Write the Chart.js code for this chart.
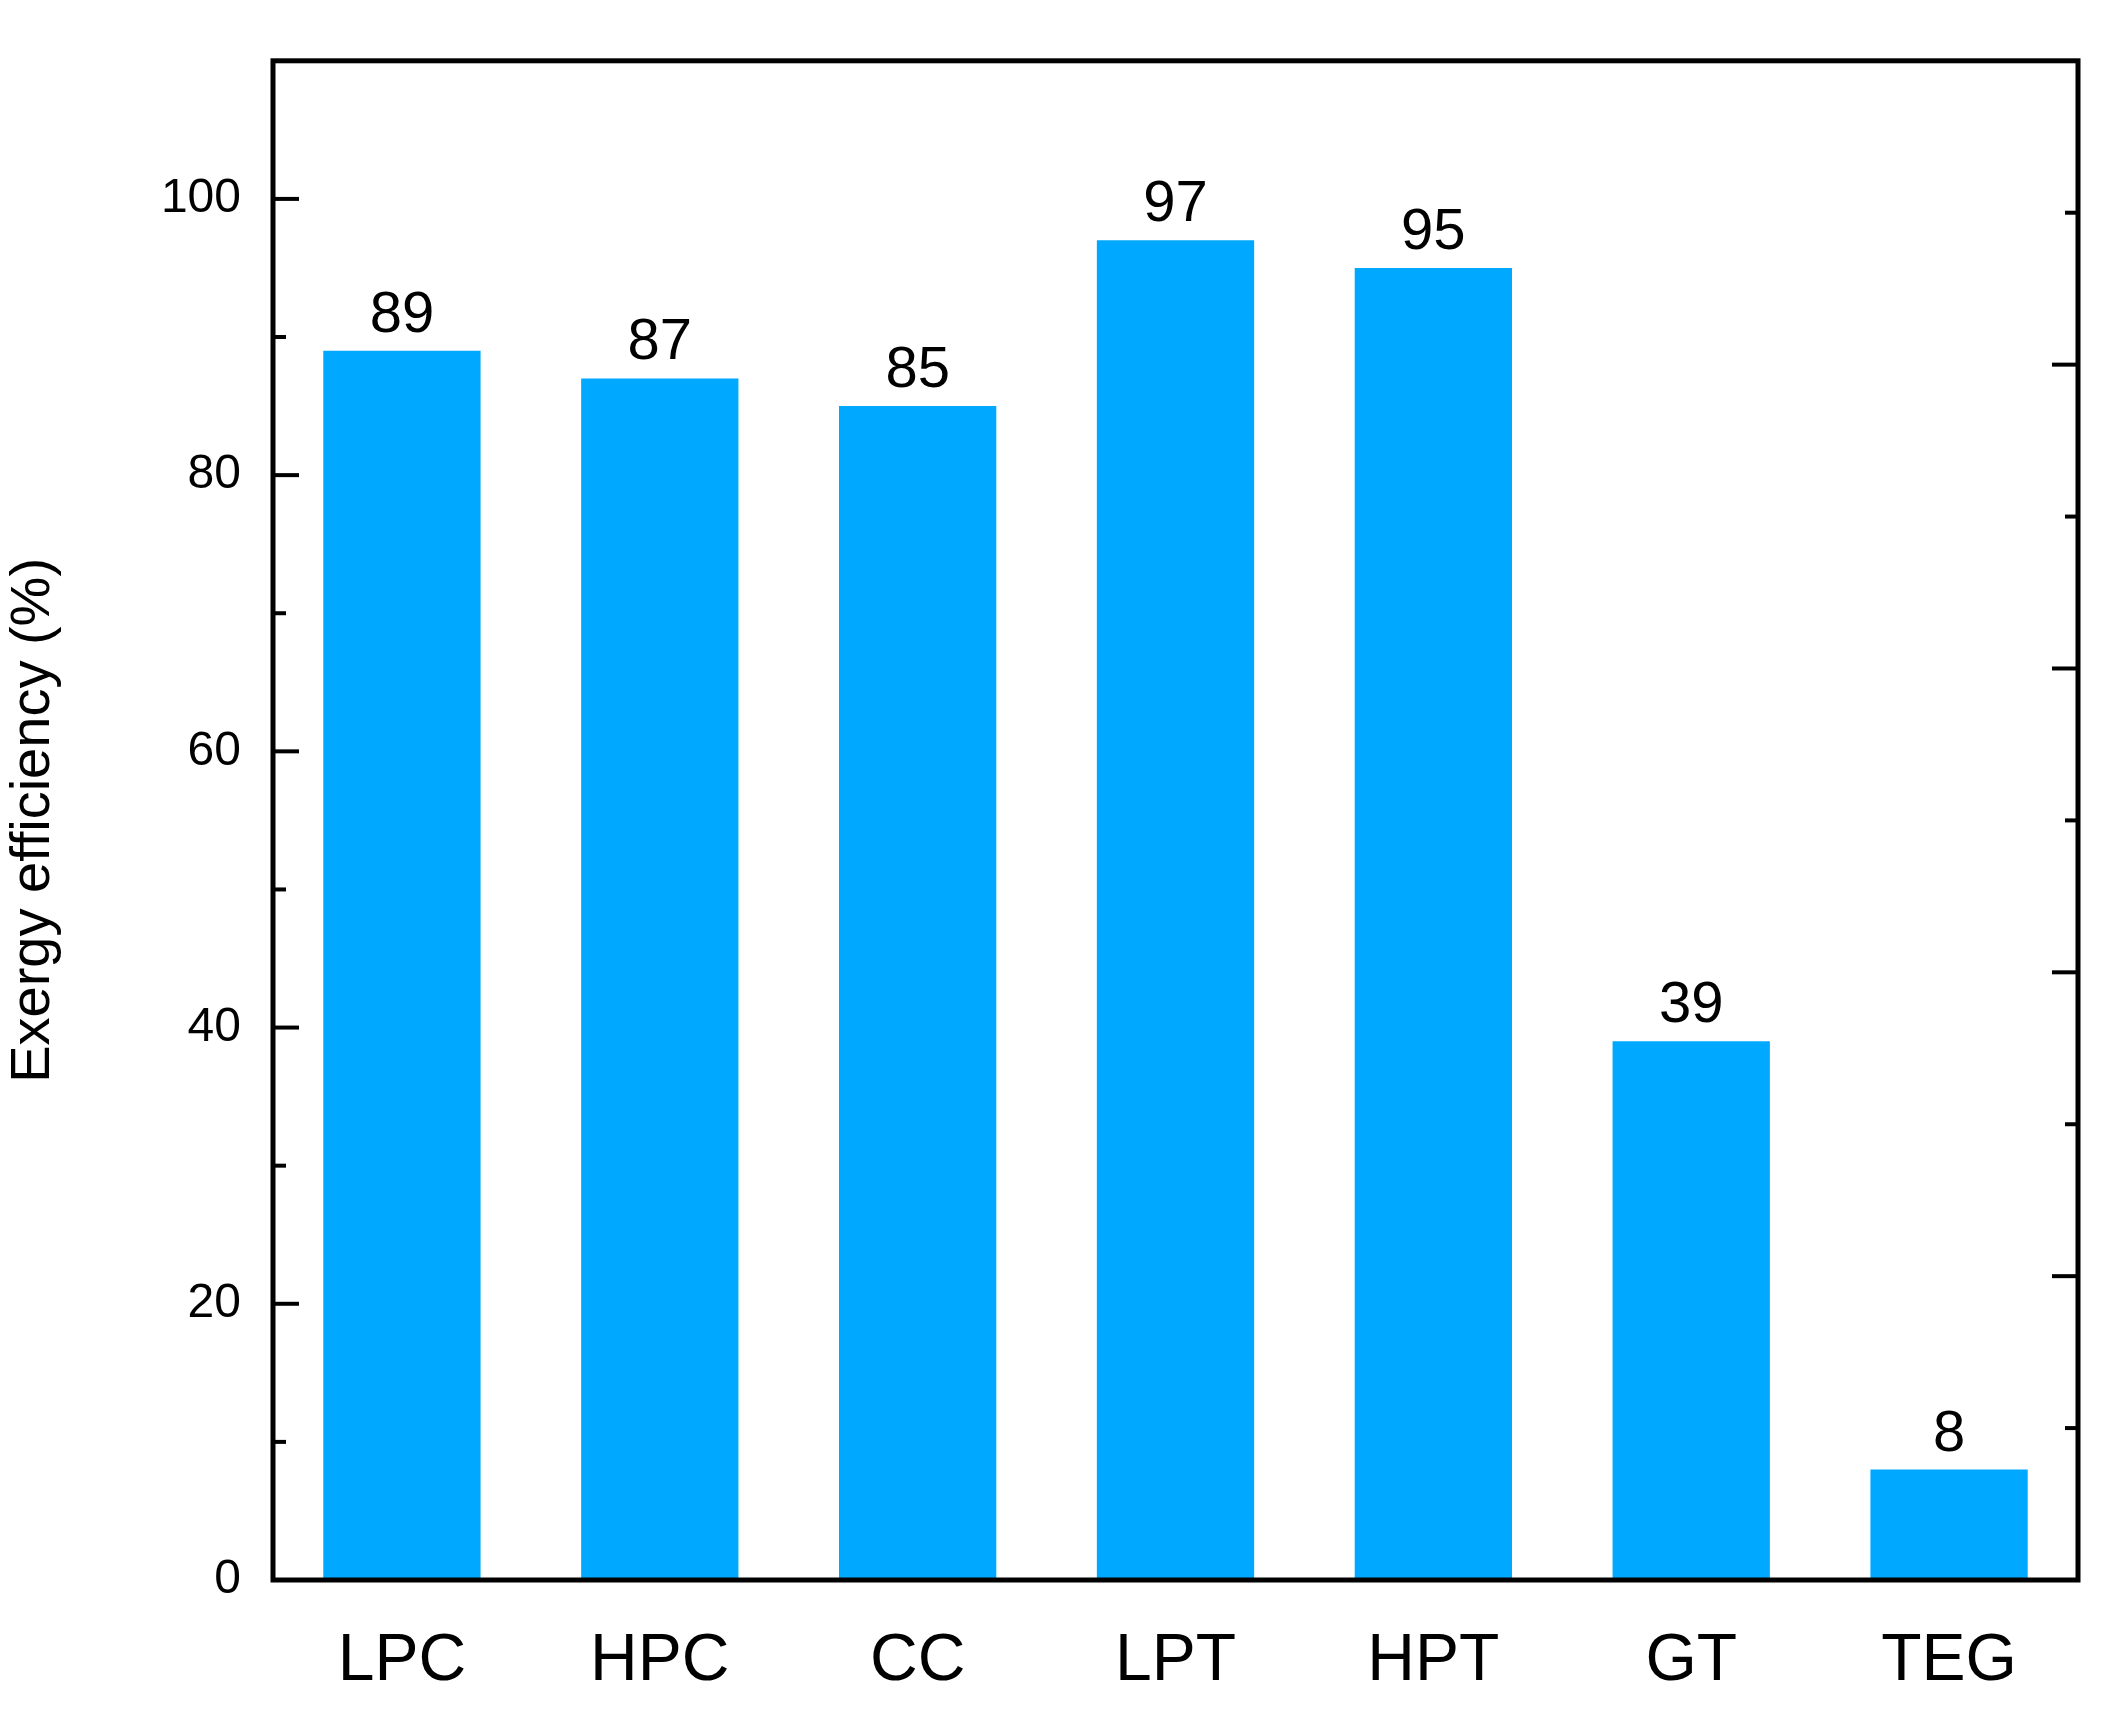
<!DOCTYPE html>
<html><head><meta charset="utf-8">
<script src="https://cdn.jsdelivr.net/npm/chart.js@4"></script>
<style>html,body{margin:0;padding:0;background:#fff}#w{width:2121px;height:1715px}</style>
</head><body><div id="w"><canvas id="c"></canvas></div>
<script>
const categories = ["LPC","HPC","CC","LPT","HPT","GT","TEG"];
const efficiency = [89,87,85,97,95,39,8];
const yTicks = [0,20,40,60,80,100];
const leftMinor = [10,30,50,70,90];
const rightMajor = [22,44,66,88];
const rightMinor = [11,33,55,77,99];
const topMajor = [456,1002,1727];
const FONT = "'Liberation Sans', Arial, sans-serif";

const deco = {
  id:'deco',
  afterDatasetsDraw(chart){
    const ctx = chart.ctx, y = chart.scales.y, a = chart.chartArea;
    ctx.save();
    ctx.strokeStyle = '#000'; ctx.lineWidth = 4;
    const tick = (x1,y1,x2,y2)=>{ctx.beginPath();ctx.moveTo(x1,y1);ctx.lineTo(x2,y2);ctx.stroke();};
    yTicks.forEach(v=>{const p=y.getPixelForValue(v); tick(a.left,p,a.left+26,p);});
    leftMinor.forEach(v=>{const p=y.getPixelForValue(v); tick(a.left,p,a.left+13,p);});
    rightMajor.forEach(v=>{const p=y.getPixelForValue(v); tick(a.right,p,a.right-26,p);});
    rightMinor.forEach(v=>{const p=y.getPixelForValue(v); tick(a.right,p,a.right-13,p);});
    ctx.lineWidth = 5;
    ctx.strokeRect(a.left, a.top, a.right-a.left, a.bottom-a.top);
    // data labels
    const meta = chart.getDatasetMeta(0);
    ctx.fillStyle = '#000'; ctx.font = '58px ' + FONT;
    ctx.textAlign = 'center'; ctx.textBaseline = 'bottom';
    meta.data.forEach((b,i)=>ctx.fillText(String(efficiency[i]), b.x, b.y - 6));
    ctx.restore();
  }
};

new Chart(document.getElementById('c'), {
  type:'bar',
  data:{labels:categories, datasets:[{data:efficiency, backgroundColor:'#00A8FF', borderWidth:0, barPercentage:0.61, categoryPercentage:1}]},
  options:{
    responsive:true, maintainAspectRatio:false, animation:false,
    devicePixelRatio:1,
    layout:{padding:{top:45,right:43,left:0,bottom:0}},
    plugins:{legend:{display:false}, tooltip:{enabled:false}},
    scales:{
      x:{
        grid:{display:false, drawTicks:false}, border:{display:false},
        ticks:{color:'#000', font:{size:66, family:FONT}, padding:42},
        afterFit(s){s.height = 135;}
      },
      y:{
        min:0, max:110,
        afterBuildTicks(s){s.ticks = yTicks.map(v=>({value:v}));},
        grid:{display:false, drawTicks:false}, border:{display:false},
        ticks:{color:'#000', font:{size:48, family:FONT}, padding:32},
        title:{display:true, text:'Exergy efficiency (%)', color:'#000', font:{size:56, family:FONT}, padding:{top:0,bottom:20}},
        afterFit(s){s.width = 273;}
      }
    }
  },
  plugins:[deco]
});
</script></body></html>
